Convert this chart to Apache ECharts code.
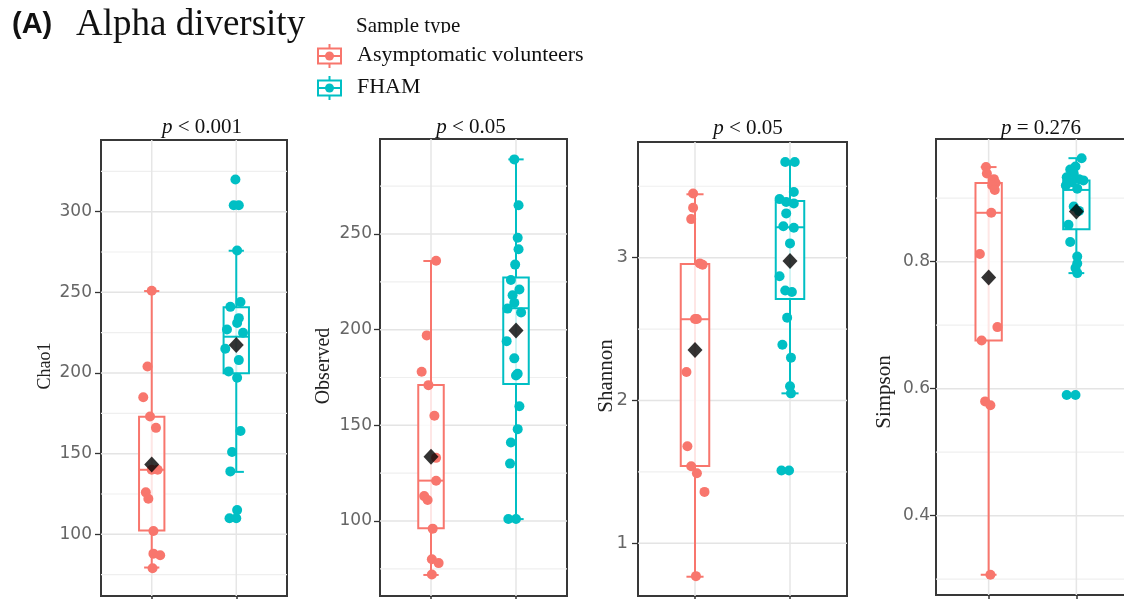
<!DOCTYPE html>
<html>
<head>
<meta charset="utf-8">
<title>Alpha diversity</title>
<script src="https://cdn.jsdelivr.net/npm/echarts@6/dist/echarts.min.js"></script>
<style>
  html, body { margin: 0; padding: 0; background: #ffffff; }
  #chart { width: 1124px; height: 599px; }
</style>
</head>
<body>
<div id="chart"></div>
<script>
// ---- groups ----
const groupNames = ['Asymptomatic volunteers', 'FHAM'];
const groupColors = ['#F8766D', '#00BFC4'];

// ---- Chao1 ----
const chao1Asym = [251, 204, 185, 173, 166, 140, 140, 126, 122, 102, 88, 87, 79];
const chao1AsymJitter = [0, -0.05, -0.10, -0.02, 0.05, 0.07, 0, -0.07, -0.04, 0.02, 0.02, 0.10, 0.01];
const chao1Fham = [320, 304, 304, 276, 244, 241, 234, 231, 227, 225, 215, 208, 201, 197, 164, 151, 139, 115, 110, 110];
const chao1FhamJitter = [-0.01, -0.03, 0.03, 0.01, 0.05, -0.07, 0.03, 0.01, -0.11, 0.08, -0.13, 0.03, -0.09, 0.01, 0.05, -0.05, -0.07, 0.01, -0.08, 0];
// [lower whisker, Q1, median, Q3, upper whisker]
const chao1BoxAsym = [79.4, 102.3, 140, 172.8, 250.8];
const chao1BoxFham = [138.7, 199.8, 222.5, 240.7, 275.8];
const chao1Means = [143.3, 217.3];
const chao1Ticks = [100, 150, 200, 250, 300];
const chao1Minor = [75, 125, 175, 225, 275, 325];

// ---- Observed ----
const observedAsym = [236, 197, 178, 171, 155, 133, 121, 113, 111, 96, 80, 78, 72];
const observedAsymJitter = [0.06, -0.05, -0.11, -0.03, 0.04, 0.06, 0.06, -0.08, -0.04, 0.02, 0.01, 0.09, 0.01];
const observedFham = [289, 265, 248, 242, 234, 226, 221, 218, 214, 211, 209, 194, 185, 177, 176, 160, 148, 141, 130, 101, 101];
const observedFhamJitter = [-0.02, 0.03, 0.02, 0.03, -0.01, -0.06, 0.04, -0.04, -0.02, -0.10, 0.06, -0.11, -0.02, 0.02, 0, 0.04, 0.02, -0.06, -0.07, -0.09, 0];
const observedBoxAsym = [71.8, 96.2, 121.1, 171.1, 235.9];
const observedBoxFham = [101, 171.6, 211.2, 227.2, 289];
const observedMeans = [133.6, 199.5];
const observedTicks = [100, 150, 200, 250];
const observedMinor = [75, 125, 175, 225, 275];

// ---- Shannon ----
const shannonAsym = [3.45, 3.35, 3.27, 2.96, 2.95, 2.57, 2.57, 2.20, 1.68, 1.54, 1.49, 1.36, 0.77];
const shannonAsymJitter = [-0.02, -0.02, -0.04, 0.05, 0.08, 0.02, 0, -0.09, -0.08, -0.04, 0.02, 0.10, 0.01];
const shannonFham = [3.67, 3.67, 3.46, 3.41, 3.39, 3.38, 3.31, 3.22, 3.21, 3.10, 2.87, 2.77, 2.76, 2.58, 2.39, 2.30, 2.10, 2.05, 1.51, 1.51];
const shannonFhamJitter = [-0.05, 0.05, 0.04, -0.11, -0.04, 0.04, -0.04, -0.07, 0.04, 0, -0.11, -0.05, 0.02, -0.03, -0.08, 0.01, 0, 0.01, -0.09, -0.01];
const shannonBoxAsym = [0.766, 1.541, 2.569, 2.956, 3.444];
const shannonBoxFham = [2.05, 2.711, 3.213, 3.397, 3.672];
const shannonMeans = [2.354, 2.977];
const shannonTicks = [1, 2, 3];
const shannonMinor = [1.5, 2.5, 3.5];

// ---- Simpson ----
const simpsonAsym = [0.949, 0.939, 0.930, 0.924, 0.920, 0.913, 0.877, 0.812, 0.697, 0.676, 0.580, 0.574, 0.307];
const simpsonAsymJitter = [-0.03, -0.02, 0.06, 0.08, 0.04, 0.07, 0.03, -0.10, 0.10, -0.08, -0.04, 0.02, 0.02];
const simpsonFham = [0.963, 0.950, 0.945, 0.939, 0.933, 0.930, 0.928, 0.925, 0.920, 0.915, 0.887, 0.880, 0.858, 0.831, 0.808, 0.797, 0.790, 0.782, 0.590, 0.590];
const simpsonFhamJitter = [0.06, -0.01, -0.07, -0.03, -0.11, 0.03, 0.08, -0.05, -0.12, 0.01, -0.03, 0.03, -0.09, -0.07, 0.01, 0.01, -0.01, 0.01, -0.11, -0.01];
const simpsonBoxAsym = [0.307, 0.676, 0.877, 0.924, 0.949];
const simpsonBoxFham = [0.782, 0.851, 0.913, 0.928, 0.963];
const simpsonMeans = [0.775, 0.879];
const simpsonTicks = [0.4, 0.6, 0.8];
const simpsonMinor = [0.3, 0.5, 0.7, 0.9];

// ---- panel texts ----
const metricNames = ['Chao1', 'Observed', 'Shannon', 'Simpson'];
const pLabels = ['< 0.001', '< 0.05', '< 0.05', '= 0.276'];

const panels = [
  { name: metricNames[0], p: pLabels[0], values: [chao1Asym, chao1Fham], jitter: [chao1AsymJitter, chao1FhamJitter],
    box: [chao1BoxAsym, chao1BoxFham], means: chao1Means, ticks: chao1Ticks, minor: chao1Minor },
  { name: metricNames[1], p: pLabels[1], values: [observedAsym, observedFham], jitter: [observedAsymJitter, observedFhamJitter],
    box: [observedBoxAsym, observedBoxFham], means: observedMeans, ticks: observedTicks, minor: observedMinor },
  { name: metricNames[2], p: pLabels[2], values: [shannonAsym, shannonFham], jitter: [shannonAsymJitter, shannonFhamJitter],
    box: [shannonBoxAsym, shannonBoxFham], means: shannonMeans, ticks: shannonTicks, minor: shannonMinor },
  { name: metricNames[3], p: pLabels[3], values: [simpsonAsym, simpsonFham], jitter: [simpsonAsymJitter, simpsonFhamJitter],
    box: [simpsonBoxAsym, simpsonBoxFham], means: simpsonMeans, ticks: simpsonTicks, minor: simpsonMinor }
];

// ---- layout (pixels) and visible value ranges ----
const layout = [
  { left: 101, top: 140, width: 186, height: 456, yMin: 61.75, yMax: 344.45, labelMargin: 9, labelSize: 17,
    titleX: 202, titleY: 127, nameX: 45, nameY: 366, nameSize: 18 },
  { left: 380, top: 139, width: 187, height: 457, yMin: 60.8, yMax: 299.65, labelMargin: 8, labelSize: 17,
    titleX: 471, titleY: 127, nameX: 324, nameY: 366, nameSize: 20 },
  { left: 638, top: 142, width: 209, height: 454, yMin: 0.631, yMax: 3.81, labelMargin: 10, labelSize: 18,
    titleX: 748, titleY: 128, nameX: 606, nameY: 376, nameSize: 21 },
  { left: 936, top: 139, width: 193, height: 456, yMin: 0.2751, yMax: 0.9932, labelMargin: 6, labelSize: 17,
    titleX: 1041, titleY: 128, nameX: 884, nameY: 392, nameSize: 21 }
];

const xMin = 0.4, xMax = 2.6;
const boxHalf = 0.15, capHalf = 0.09;

const grid = [], xAxis = [], yAxis = [], series = [], graphic = [];

panels.forEach((pn, i) => {
  const L = layout[i];
  grid.push({ left: L.left, top: L.top, width: L.width, height: L.height, show: true,
    borderColor: '#383838', borderWidth: 2, backgroundColor: 'transparent',
    containLabel: false, outerBoundsMode: 'none' });
  xAxis.push({ type: 'value', gridIndex: i, min: xMin, max: xMax,
    axisLine: { show: false }, splitLine: { show: false }, axisLabel: { show: false },
    axisTick: { show: true, customValues: [1, 2], length: 5, lineStyle: { color: '#333', width: 1.5 } } });
  yAxis.push({ type: 'value', gridIndex: i, min: L.yMin, max: L.yMax,
    axisLine: { show: false }, splitLine: { show: false },
    axisTick: { show: true, customValues: pn.ticks, length: 6, lineStyle: { color: '#333', width: 1.3 } },
    axisLabel: { customValues: pn.ticks, margin: L.labelMargin, color: '#666666',
      fontFamily: 'DejaVu Sans', fontSize: L.labelSize } });

  // background grid lines: kind 0 = major horizontal, 1 = minor horizontal, 2 = vertical
  const gridLines = pn.ticks.map(v => [0, v]).concat(pn.minor.map(v => [1, v])).concat([[2, 1], [2, 2]]);
  series.push({
    type: 'custom', xAxisIndex: i, yAxisIndex: i, silent: true, z: 0,
    data: gridLines,
    renderItem(params, api) {
      const cs = params.coordSys;
      const kind = api.value(0), v = api.value(1);
      if (kind === 2) {
        const x = api.coord([v, (L.yMin + L.yMax) / 2])[0];
        return { type: 'line', shape: { x1: x, y1: cs.y, x2: x, y2: cs.y + cs.height },
          style: { stroke: '#e6e6e6', lineWidth: 1.5 } };
      }
      const y = api.coord([1.5, v])[1];
      return { type: 'line', shape: { x1: cs.x, y1: y, x2: cs.x + cs.width, y2: y },
        style: { stroke: kind === 0 ? '#e4e4e4' : '#efefef', lineWidth: kind === 0 ? 1.5 : 1.2 } };
    }
  });

  // box + whiskers
  series.push({
    type: 'custom', xAxisIndex: i, yAxisIndex: i, silent: true, z: 2,
    data: pn.box.map((b, g) => [g + 1].concat(b)),
    renderItem(params, api) {
      const x = api.value(0);
      const lo = api.value(1), q1 = api.value(2), md = api.value(3), q3 = api.value(4), hi = api.value(5);
      const c = groupColors[params.dataIndex];
      const P = (xx, yy) => api.coord([xx, yy]);
      const a = P(x, lo), b = P(x, hi);
      const capLoL = P(x - capHalf, lo), capLoR = P(x + capHalf, lo);
      const capHiL = P(x - capHalf, hi), capHiR = P(x + capHalf, hi);
      const tl = P(x - boxHalf, q3), br = P(x + boxHalf, q1);
      const mL = P(x - boxHalf, md), mR = P(x + boxHalf, md);
      const ls = { stroke: c, lineWidth: 2 };
      return { type: 'group', children: [
        { type: 'line', shape: { x1: a[0], y1: a[1], x2: b[0], y2: b[1] }, style: ls },
        { type: 'line', shape: { x1: capLoL[0], y1: capLoL[1], x2: capLoR[0], y2: capLoR[1] }, style: ls },
        { type: 'line', shape: { x1: capHiL[0], y1: capHiL[1], x2: capHiR[0], y2: capHiR[1] }, style: ls },
        { type: 'rect', shape: { x: tl[0], y: tl[1], width: br[0] - tl[0], height: br[1] - tl[1] },
          style: { fill: 'rgba(255,255,255,0.82)', stroke: c, lineWidth: 2 } },
        { type: 'line', shape: { x1: mL[0], y1: mL[1], x2: mR[0], y2: mR[1] }, style: ls }
      ] };
    }
  });

  // jittered sample points
  pn.values.forEach((vals, g) => {
    series.push({
      type: 'scatter', name: groupNames[g], xAxisIndex: i, yAxisIndex: i, z: 3, silent: true,
      symbol: 'circle', symbolSize: 10,
      itemStyle: { color: groupColors[g], opacity: 1 },
      data: vals.map((v, k) => [g + 1 + pn.jitter[g][k], v])
    });
  });

  // group means
  series.push({
    type: 'scatter', xAxisIndex: i, yAxisIndex: i, z: 4, silent: true,
    symbol: 'diamond', symbolSize: [15, 16],
    itemStyle: { color: '#000000' },
    data: pn.means.map((m, g) => [g + 1, m])
  });

  // panel title with italic p
  graphic.push({
    type: 'text', z: 10, x: L.titleX, y: L.titleY,
    style: { text: '{i|p} ' + pn.p, fontFamily: 'Liberation Serif', fontSize: 21, fill: '#111',
      textAlign: 'center', textVerticalAlign: 'middle', align: 'center', verticalAlign: 'middle',
      rich: { i: { fontStyle: 'italic', fontFamily: 'Liberation Serif', fontSize: 21, fill: '#111' } } }
  });
  // y axis title
  graphic.push({
    type: 'text', z: 10, x: L.nameX, y: L.nameY, rotation: Math.PI / 2,
    style: { text: pn.name, fontFamily: 'Liberation Serif', fontSize: L.nameSize, fill: '#222',
      textAlign: 'center', textVerticalAlign: 'middle', align: 'center', verticalAlign: 'middle' }
  });
});

// heading
graphic.push({
  type: 'text', x: 12, y: 25,
  style: { text: '(A)', fontFamily: 'Liberation Sans', fontWeight: 'bold', fontSize: 29, fill: '#111',
    textVerticalAlign: 'middle', verticalAlign: 'middle' }
});
graphic.push({
  type: 'text', x: 76, y: 25,
  style: { text: 'Alpha diversity', fontFamily: 'Liberation Serif', fontSize: 37, fill: '#111',
    textVerticalAlign: 'middle', verticalAlign: 'middle' }
});

// legend
graphic.push({
  type: 'text', x: 356, y: 26,
  style: { text: 'Sample type', fontFamily: 'Liberation Serif', fontSize: 21, fill: '#111',
    textVerticalAlign: 'middle', verticalAlign: 'middle' }
});
// the legend title sits against the top strip and loses its descenders
graphic.push({ type: 'rect', z: 20, shape: { x: 352, y: 33, width: 124, height: 7 }, style: { fill: '#ffffff' } });

const legendRows = [56, 88];
groupNames.forEach((nm, g) => {
  const cy = legendRows[g], cx = 329.5, c = groupColors[g];
  graphic.push({
    type: 'group', children: [
      { type: 'line', shape: { x1: cx, y1: cy - 12, x2: cx, y2: cy + 12 }, style: { stroke: c, lineWidth: 2 } },
      { type: 'rect', shape: { x: cx - 11.5, y: cy - 7.5, width: 23, height: 15 }, style: { fill: '#fff', stroke: c, lineWidth: 2 } },
      { type: 'line', shape: { x1: cx - 11.5, y1: cy, x2: cx + 11.5, y2: cy }, style: { stroke: c, lineWidth: 2 } },
      { type: 'circle', shape: { cx: cx, cy: cy, r: 4.5 }, style: { fill: c } }
    ]
  });
  graphic.push({
    type: 'text', x: 357, y: cy - 1,
    style: { text: nm, fontFamily: 'Liberation Serif', fontSize: 22, fill: '#111',
      textVerticalAlign: 'middle', verticalAlign: 'middle' }
  });
});

const chart = echarts.init(document.getElementById('chart'), null, { renderer: 'canvas' });
chart.setOption({
  animation: false,
  backgroundColor: '#ffffff',
  grid, xAxis, yAxis, series, graphic
});
</script>
</body>
</html>
